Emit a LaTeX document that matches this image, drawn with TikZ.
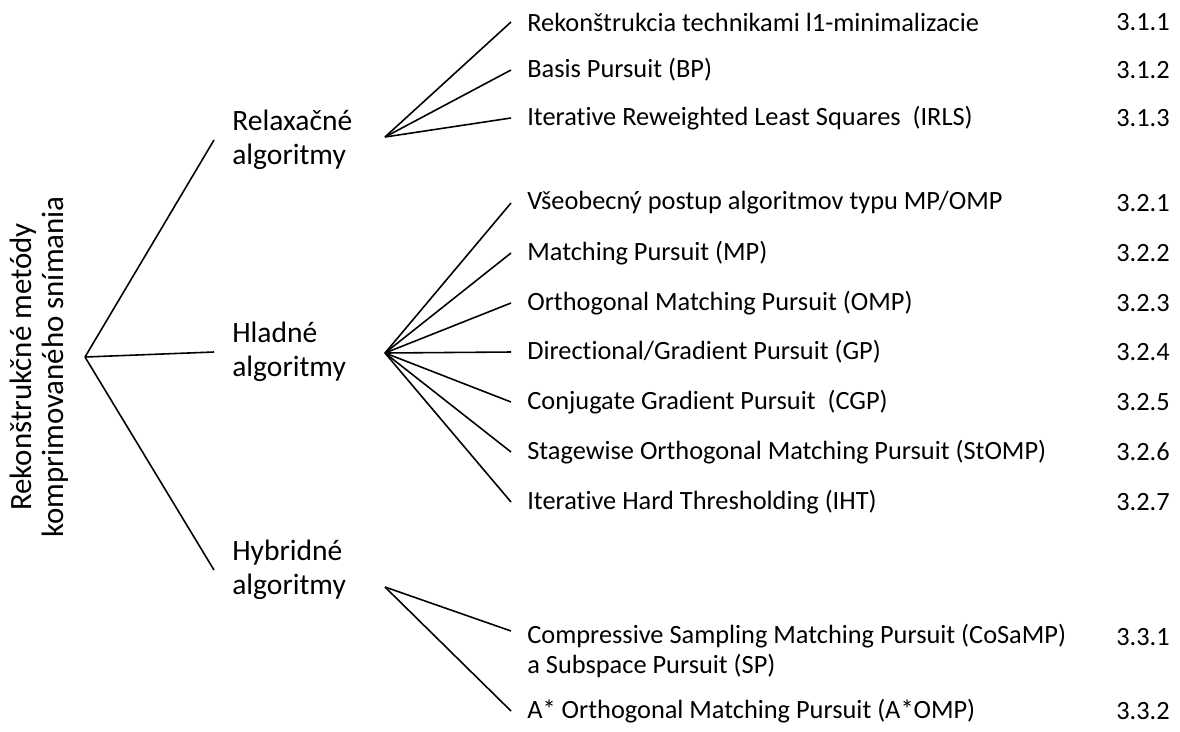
\documentclass[tikz,border=0pt]{standalone}
\usepackage{fontspec}
\setmainfont{Carlito}[Ligatures=NoCommon]
\usetikzlibrary{calc}

\begin{document}
\begin{tikzpicture}[x=0.02cm,y=-0.02cm,
    branch/.style={line width=0.9pt},
    group/.style={anchor=west,inner xsep=0.36cm,inner ysep=0pt,align=left,font=\fontsize{16.8}{19.3}\selectfont},
    leaf/.style={anchor=west,inner xsep=0.32cm,inner ysep=0pt,align=left,font=\fontsize{15}{17}\selectfont},
    secnum/.style={anchor=east,inner sep=0pt,font=\fontsize{15}{17}\selectfont}]
    \useasboundingbox (0,0) rectangle (1180,731);

    \node[rotate=90,align=center,font=\fontsize{17.6}{18.2}\selectfont] (Root) at (39,367) {Rekonštrukčné metódy\\komprimovaného snímania};
    \coordinate (rootpos) at (85,357);

    \node[group] (Rel) at (214,140) {Relaxačné\\algoritmy};
    \node[group] (Hla) at (214,352) {Hladné\\algoritmy};
    \node[group] (Hyb) at (214,570) {Hybridné\\algoritmy};

    \coordinate (Relfan) at (385,137);
    \coordinate (Hlafan) at (385,353);
    \coordinate (Hybfan) at (385,587);

    \node[leaf] (R1) at (511,22) {Rekonštrukcia technikami l1-minimalizacie};
    \node[leaf] (R2) at (511,70) {Basis Pursuit (BP)};
    \node[leaf] (R3) at (511,118) {Iterative Reweighted Least Squares\ \ (IRLS)};

    \node[leaf] (G1) at (511,203) {Všeobecný postup algoritmov typu MP/OMP};
    \node[leaf] (G2) at (511,253) {Matching Pursuit (MP)};
    \node[leaf] (G3) at (511,303) {Orthogonal Matching Pursuit (OMP)};
    \node[leaf] (G4) at (511,352) {Directional/Gradient Pursuit (GP)};
    \node[leaf] (G5) at (511,402) {Conjugate Gradient Pursuit\ \ (CGP)};
    \node[leaf] (G6) at (511,452) {Stagewise Orthogonal Matching Pursuit (StOMP)};
    \node[leaf] (G7) at (511,502) {Iterative Hard Thresholding (IHT)};

    \node[leaf] (Y1) at (511,651) {Compressive Sampling Matching Pursuit (CoSaMP)\\a Subspace Pursuit (SP)};
    \node[leaf] (Y2) at (511,711) {A* Orthogonal Matching Pursuit (A*OMP)};

    \node[secnum] (nR1) at (1170,22) {3.1.1};
    \node[secnum] (nR2) at (1170,70) {3.1.2};
    \node[secnum] (nR3) at (1170,118) {3.1.3};
    \node[secnum] (nG1) at (1170,203) {3.2.1};
    \node[secnum] (nG2) at (1170,253) {3.2.2};
    \node[secnum] (nG3) at (1170,303) {3.2.3};
    \node[secnum] (nG4) at (1170,352) {3.2.4};
    \node[secnum] (nG5) at (1170,402) {3.2.5};
    \node[secnum] (nG6) at (1170,452) {3.2.6};
    \node[secnum] (nG7) at (1170,502) {3.2.7};
    \node[secnum] (nY1) at (1170,637) {3.3.1};
    \node[secnum] (nY2) at (1170,711) {3.3.2};

    % root to groups
    \draw[branch] (rootpos) -- (Rel.west);
    \draw[branch] (rootpos) -- (Hla.west);
    \draw[branch] (rootpos) -- (Hyb.west);

    % groups to methods
    \draw[branch] (Relfan) -- (R1.west);
    \draw[branch] (Relfan) -- (R2.west);
    \draw[branch] (Relfan) -- (R3.west);
    \draw[branch] (Hlafan) -- (G1.west);
    \draw[branch] (Hlafan) -- (G2.west);
    \draw[branch] (Hlafan) -- (G3.west);
    \draw[branch] (Hlafan) -- (G4.west);
    \draw[branch] (Hlafan) -- (G5.west);
    \draw[branch] (Hlafan) -- (G6.west);
    \draw[branch] (Hlafan) -- (G7.west);
    \draw[branch] (Hybfan) -- ([yshift=0.4cm]Y1.west);
    \draw[branch] (Hybfan) -- (Y2.west);
\end{tikzpicture}
\end{document}
